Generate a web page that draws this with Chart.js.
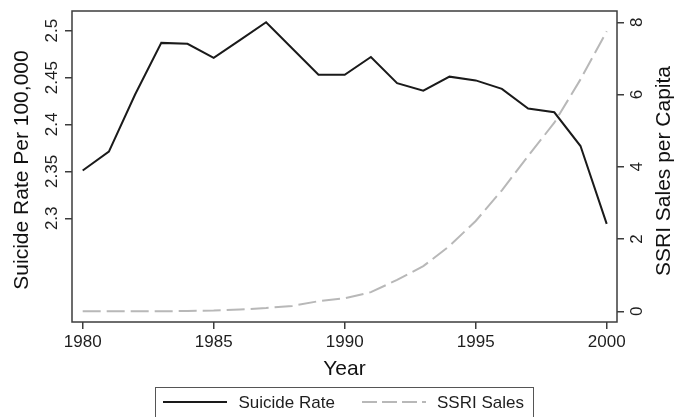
<!DOCTYPE html>
<html>
<head>
<meta charset="utf-8">
<title>Suicide Rate and SSRI Sales, 1980-2000</title>
<script src="https://cdn.jsdelivr.net/npm/chart.js@4.4.1/dist/chart.umd.min.js"></script>
<style>
  html, body { margin: 0; padding: 0; background: #fff; }
  canvas { display: block; }
</style>
</head>
<body>
<canvas id="rateChart" width="686" height="417"></canvas>
<script>
// yearly series
const years = [1980, 1981, 1982, 1983, 1984, 1985, 1986, 1987, 1988, 1989, 1990,
               1991, 1992, 1993, 1994, 1995, 1996, 1997, 1998, 1999, 2000];
const suicideRate = [2.351, 2.371, 2.432, 2.487, 2.486, 2.471, 2.490, 2.509, 2.481, 2.453, 2.453,
                     2.472, 2.444, 2.436, 2.451, 2.447, 2.438, 2.417, 2.413, 2.377, 2.294];
const ssriSales = [0, 0, 0, 0, 0.01, 0.02, 0.05, 0.09, 0.15, 0.28, 0.36,
                   0.53, 0.87, 1.25, 1.81, 2.50, 3.35, 4.30, 5.22, 6.42, 7.75];

// axis ticks
const yearTicks = [1980, 1985, 1990, 1995, 2000];
const rateTicks = [2.3, 2.35, 2.4, 2.45, 2.5];
const salesTicks = [0, 2, 4, 6, 8];

const FONT = '"Liberation Sans", Arial, Helvetica, sans-serif';
const frameColor = '#3c3c3c';
const textColor = '#1e1e1e';

function toPoints(values) {
    return years.map((yr, i) => ({ x: yr, y: values[i] }));
}

function fixedTicks(list) {
    return function(scale) {
        scale.ticks = list.map(v => ({ value: v }));
    };
}

// box round the plot region, rotated y labels and axis titles
const frameAndLabels = {
    id: 'frameAndLabels',
    afterDraw(chart) {
        const ctx = chart.ctx;
        const a = chart.chartArea;

        ctx.save();
        ctx.strokeStyle = frameColor;
        ctx.lineWidth = 1.5;
        ctx.strokeRect(a.left, a.top, a.right - a.left, a.bottom - a.top);

        ctx.fillStyle = textColor;
        ctx.textAlign = 'center';
        ctx.textBaseline = 'middle';

        function rotatedText(text, x, y, size) {
            ctx.save();
            ctx.font = size + 'px ' + FONT;
            ctx.translate(x, y);
            ctx.rotate(-Math.PI / 2);
            ctx.fillText(text, 0, 0);
            ctx.restore();
        }

        const left = chart.scales.yRate;
        left.ticks.forEach(t => {
            rotatedText(String(t.value), a.left - 19.5, left.getPixelForValue(t.value), 17);
        });
        const right = chart.scales.ySales;
        right.ticks.forEach(t => {
            rotatedText(String(t.value), a.right + 20, right.getPixelForValue(t.value), 17);
        });

        ctx.fillStyle = '#111';
        rotatedText('Suicide Rate Per 100,000', 22.5, 170, 21);
        rotatedText('SSRI Sales per Capita', 664, 171, 21);
        ctx.restore();
    }
};

// legend in a bordered box under the x axis
const boxLegend = {
    id: 'boxLegend',
    afterDraw(chart) {
        const ctx = chart.ctx;
        const items = [
            { lineX: 163, textX: 238.5 },
            { lineX: 362, textX: 437 }
        ];
        const midY = 402;

        ctx.save();
        ctx.strokeStyle = '#555';
        ctx.lineWidth = 1;
        ctx.strokeRect(155.5, 387.5, 378, 40);

        ctx.font = '17px ' + FONT;
        ctx.textBaseline = 'middle';
        ctx.textAlign = 'left';
        chart.data.datasets.forEach((ds, i) => {
            const it = items[i];
            ctx.save();
            ctx.strokeStyle = ds.borderColor;
            ctx.lineWidth = ds.borderWidth;
            ctx.setLineDash(ds.borderDash ? [15, 5] : []);
            ctx.beginPath();
            ctx.moveTo(it.lineX, midY);
            ctx.lineTo(it.lineX + 64, midY);
            ctx.stroke();
            ctx.restore();
            ctx.fillStyle = textColor;
            ctx.fillText(ds.label, it.textX, midY + 1);
        });
        ctx.restore();
    }
};

const tickGrid = {
    display: true,
    drawOnChartArea: false,
    drawTicks: true,
    tickLength: 7,
    color: frameColor,
    lineWidth: 1.5
};

const ctx = document.getElementById('rateChart');
new Chart(ctx, {
    type: 'line',
    data: {
        datasets: [{
            label: 'Suicide Rate',
            data: toPoints(suicideRate),
            yAxisID: 'yRate',
            borderColor: '#1a1a1a',
            borderWidth: 2,
            pointRadius: 0,
            tension: 0,
            fill: false
        }, {
            label: 'SSRI Sales',
            data: toPoints(ssriSales),
            yAxisID: 'ySales',
            borderColor: '#b8b8b8',
            borderWidth: 2,
            borderDash: [18, 6],
            pointRadius: 0,
            tension: 0,
            fill: false
        }]
    },
    options: {
        responsive: false,
        animation: false,
        devicePixelRatio: 1,
        layout: {
            padding: { top: 11, left: 0, right: 0, bottom: 35.4 }
        },
        plugins: {
            legend: { display: false },
            tooltip: { enabled: false }
        },
        scales: {
            x: {
                type: 'linear',
                position: 'bottom',
                min: 1979.592,
                max: 2000.393,
                afterBuildTicks: fixedTicks(yearTicks),
                afterFit: function(scale) { scale.height = 59.6; },
                grid: tickGrid,
                border: { display: false },
                ticks: {
                    autoSkip: false,
                    maxRotation: 0,
                    padding: 3,
                    color: textColor,
                    font: { family: FONT, size: 17 },
                    callback: v => String(v)
                },
                title: {
                    display: true,
                    text: 'Year',
                    color: '#111',
                    padding: 0,
                    font: { family: FONT, size: 21 }
                }
            },
            yRate: {
                type: 'linear',
                position: 'left',
                min: 2.1894,
                max: 2.521,
                afterBuildTicks: fixedTicks(rateTicks),
                afterFit: function(scale) { scale.width = 72; },
                grid: tickGrid,
                border: { display: false },
                ticks: { display: false }
            },
            ySales: {
                type: 'linear',
                position: 'right',
                min: -0.296,
                max: 8.313,
                afterBuildTicks: fixedTicks(salesTicks),
                afterFit: function(scale) { scale.width = 69; },
                grid: tickGrid,
                border: { display: false },
                ticks: { display: false }
            }
        }
    },
    plugins: [frameAndLabels, boxLegend]
});
</script>
</body>
</html>
